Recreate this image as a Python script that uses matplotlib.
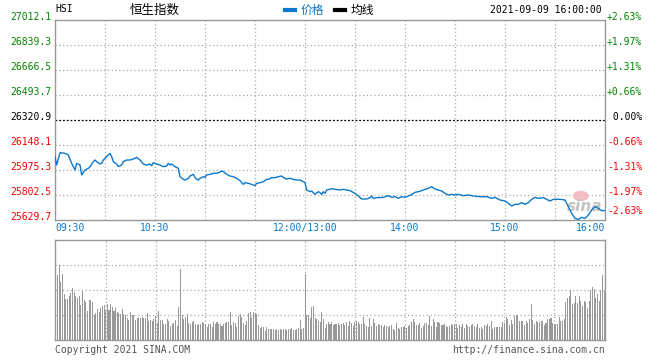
import matplotlib
matplotlib.use('Agg')
import matplotlib.pyplot as plt
from matplotlib.lines import Line2D
from matplotlib.patches import Ellipse
from matplotlib.transforms import blended_transform_factory, offset_copy

# ---------------- data ----------------
prev_close = 26320.9
y_ticks = [27012.1, 26839.3, 26666.5, 26493.7, 26320.9, 26148.1, 25975.3, 25802.5, 25629.7]
pct_labels = ['+2.63%', '+1.97%', '+1.31%', '+0.66%', ' 0.00%', '-0.66%', '-1.31%', '-1.97%', '-2.63%']
x_tick_min = [0, 60, 150, 210, 270, 330]
x_tick_lbl = ['09:30', '10:30', '12:00/13:00', '14:00', '15:00', '16:00']

# trading-minute index since 09:30 (lunch break removed) and index level
price_min = [0, 1, 3, 6, 8, 10, 12, 13, 15, 16, 18, 20, 21, 23, 24, 25, 27, 28, 29, 31,
             32, 33, 34, 35, 37, 38, 40, 41, 43, 45, 48, 49, 51, 53, 55, 57, 58, 59, 61, 63,
             65, 67, 68, 69, 70, 72, 74, 75, 77, 78, 80, 81, 83, 84, 85, 86, 87, 89, 90, 91,
             93, 95, 97, 99, 100, 101, 103, 105, 107, 109, 111, 112, 113, 114, 116, 118, 120, 121, 123, 125,
             127, 128, 130, 132, 134, 136, 137, 138, 139, 141, 143, 145, 147, 149, 150, 151, 153, 154, 155, 156,
             158, 159, 160, 161, 162, 163, 165, 166, 168, 171, 173, 175, 177, 180, 182, 184, 187, 189, 190, 191,
             193, 197, 200, 202, 204, 206, 208, 210, 212, 214, 216, 218, 220, 222, 224, 226, 228, 230, 232, 234,
             236, 238, 240, 242, 245, 248, 251, 255, 259, 262, 264, 267, 270, 272, 274, 276, 278, 280, 282, 284,
             286, 288, 290, 293, 295, 297, 299, 301, 303, 306, 308, 310, 312, 314, 316, 318, 320, 322, 324, 326,
             328, 330]
price_val = [26067.5, 26009.9, 26095.1, 26090.5, 26079.0, 26021.4, 25975.3, 26021.4, 26009.9, 25940.8,
             25975.3, 25986.8, 25998.4, 26032.9, 26044.4, 26032.9, 26016.8, 26021.4, 26044.4, 26067.5,
             26079.0, 26090.5, 26067.5, 26032.9, 26016.8, 25998.4, 26009.9, 26032.9, 26044.4, 26044.4,
             26055.9, 26062.9, 26044.4, 26016.8, 26009.9, 26016.8, 26005.2, 26026.0, 26016.8, 26009.9,
             25998.4, 26003.0, 26021.4, 26009.9, 26016.8, 25998.4, 25986.8, 25929.2, 25910.8, 25906.2,
             25917.7, 25933.8, 25945.4, 25924.6, 25910.8, 25906.2, 25917.7, 25929.2, 25924.6, 25940.8,
             25945.4, 25952.3, 25952.3, 25961.5, 25968.4, 25963.8, 25945.4, 25933.8, 25929.2, 25917.7,
             25901.6, 25887.8, 25876.2, 25887.8, 25883.1, 25876.2, 25867.0, 25883.1, 25887.8, 25894.7,
             25910.8, 25910.8, 25922.3, 25922.3, 25929.2, 25933.8, 25924.6, 25917.7, 25913.1, 25917.7,
             25910.8, 25906.2, 25906.2, 25894.7, 25887.8, 25837.1, 25825.5, 25830.1, 25818.6, 25807.1,
             25825.5, 25818.6, 25807.1, 25825.5, 25814.0, 25837.1, 25841.7, 25846.3, 25841.7, 25837.1,
             25841.7, 25837.1, 25832.5, 25814.0, 25795.6, 25774.9, 25774.9, 25784.1, 25795.6, 25779.5,
             25784.1, 25786.4, 25797.9, 25786.4, 25791.0, 25779.5, 25791.0, 25786.4, 25795.6, 25804.8,
             25820.9, 25825.5, 25832.5, 25841.7, 25848.6, 25860.1, 25844.0, 25837.1, 25830.2, 25814.0,
             25802.5, 25807.1, 25802.5, 25807.1, 25797.9, 25802.5, 25795.6, 25791.0, 25791.0, 25779.5,
             25786.4, 25768.0, 25761.0, 25744.9, 25726.5, 25738.0, 25738.0, 25749.5, 25738.0, 25749.5,
             25772.6, 25786.4, 25779.5, 25784.1, 25772.6, 25761.0, 25772.6, 25772.6, 25772.6, 25768.0,
             25721.9, 25675.8, 25641.2, 25634.3, 25648.1, 25641.2, 25664.3, 25698.8, 25721.9, 25710.3,
             25694.2, 25695.0]

# per-minute volume (relative units, panel max = 100)
volume = [65, 65, 75, 58, 66, 46, 41, 41, 44, 47, 52, 48, 44, 42, 44, 35, 49, 40, 38, 29,
          40, 40, 38, 25, 27, 31, 28, 32, 34, 35, 30, 36, 30, 36, 33, 29, 32, 28, 27, 26,
          31, 26, 25, 22, 20, 28, 25, 25, 20, 22, 22, 22, 23, 22, 22, 27, 19, 20, 19, 21,
          24, 17, 29, 20, 20, 16, 16, 21, 19, 14, 16, 17, 20, 14, 33, 71, 25, 21, 23, 26,
          17, 16, 18, 19, 16, 15, 16, 16, 18, 17, 16, 13, 16, 16, 13, 18, 16, 18, 16, 16,
          14, 16, 17, 18, 18, 28, 15, 18, 17, 13, 24, 26, 23, 17, 15, 19, 27, 28, 22, 28,
          27, 26, 15, 12, 13, 13, 9, 13, 11, 11, 11, 11, 10, 11, 10, 11, 10, 11, 11, 10,
          11, 11, 12, 10, 10, 11, 12, 20, 11, 12, 66, 25, 25, 22, 33, 34, 22, 21, 19, 18,
          28, 21, 12, 16, 18, 16, 18, 15, 16, 16, 17, 15, 16, 17, 15, 18, 14, 19, 17, 14,
          18, 19, 18, 16, 16, 23, 16, 14, 13, 22, 14, 21, 17, 14, 16, 15, 15, 13, 15, 14,
          13, 14, 15, 11, 10, 17, 12, 11, 13, 13, 14, 12, 14, 15, 18, 21, 18, 15, 15, 17,
          12, 14, 17, 17, 15, 24, 14, 21, 18, 13, 18, 17, 15, 15, 16, 14, 13, 14, 16, 15,
          16, 16, 12, 15, 13, 16, 12, 16, 14, 13, 15, 16, 14, 13, 16, 12, 13, 11, 15, 14,
          16, 14, 19, 11, 13, 13, 13, 13, 13, 18, 17, 23, 21, 15, 20, 16, 24, 25, 25, 19,
          19, 19, 15, 19, 17, 21, 36, 20, 16, 19, 18, 18, 19, 19, 15, 17, 21, 21, 22, 17,
          16, 16, 16, 23, 19, 19, 21, 38, 42, 44, 50, 36, 37, 44, 37, 44, 39, 34, 39, 38,
          32, 39, 50, 53, 51, 42, 46, 39, 50, 65, 49]

# ---------------- styles ----------------
BLUE = '#0a78cc'
GREEN = '#008800'
RED = '#ff0000'
GRID = '#aaaaaa'
FRAME = '#999999'
MONO = 'DejaVu Sans Mono'
CJK = ['Noto Sans CJK SC', 'DejaVu Sans']

W, H = 660, 360
fig = plt.figure(figsize=(6.6, 3.6), dpi=100)


def fx(px):
    return px / W


def fy(py):
    return 1 - py / H


# ---------------- main price panel ----------------
ax = fig.add_axes([fx(55), fy(220), (605 - 55) / W, 200 / H])
ax.set_xlim(0, 330)
ax.set_ylim(y_ticks[-1], y_ticks[0])
for s in ax.spines.values():
    s.set_color(FRAME)
    s.set_linewidth(1)
ax.set_xticks([])
ax.set_yticks([])

for xm in range(30, 330, 30):
    ax.axvline(xm, color=GRID, lw=0.9, ls=(0, (1, 2)), zorder=1)
for v in y_ticks[1:-1]:
    if v == prev_close:
        ax.axhline(v, color='black', lw=0.9, ls=(0, (1.5, 1.5)), zorder=1)
    else:
        ax.axhline(v, color=GRID, lw=0.9, ls=(0, (1, 2)), zorder=1)

# sina watermark
ax.add_patch(Ellipse((0.956, 0.12), 0.026, 0.045, transform=ax.transAxes,
                     color='#f5b5bd', alpha=0.85, zorder=2))
ax.text(0.962, 0.07, 'sina', transform=ax.transAxes, ha='center', va='center',
        fontsize=11, fontweight='bold', style='italic', color='#c4c4c4', zorder=2)

ax.plot(price_min, price_val, color=BLUE, lw=1.0, zorder=3)

trans_l = blended_transform_factory(ax.transAxes, ax.transData)
for i, v in enumerate(y_ticks):
    col = GREEN if v > prev_close else ('black' if v == prev_close else RED)
    t = offset_copy(trans_l, fig=fig, x=-4, y=3, units='dots')
    ax.text(0, v, f'{v:.1f}', transform=t, ha='right', va='center',
            fontsize=7, family=MONO, color=col)
    dy = 3 if i < len(y_ticks) - 1 else 9
    t2 = offset_copy(trans_l, fig=fig, x=2, y=dy, units='dots')
    ax.text(1, v, pct_labels[i], transform=t2, ha='left', va='center',
            fontsize=7, family=MONO, color=col)

trans_x = blended_transform_factory(ax.transData, ax.transAxes)
for m, lbl in zip(x_tick_min, x_tick_lbl):
    ha = 'left' if m == 0 else ('right' if m == 330 else 'center')
    ax.text(m, -0.04, lbl, transform=trans_x, ha=ha, va='center',
            fontsize=7, family=MONO, color=BLUE)

# ---------------- volume panel ----------------
axv = fig.add_axes([fx(55), fy(340), (605 - 55) / W, 100 / H])
axv.set_xlim(-0.5, 330.5)
axv.set_ylim(0, 100)
for s in axv.spines.values():
    s.set_color(FRAME)
    s.set_linewidth(1)
axv.set_xticks([])
axv.set_yticks([])
for xm in range(30, 330, 30):
    axv.axvline(xm, color=GRID, lw=0.9, ls=(0, (1, 2)), zorder=1)
for yv in (25, 50, 75):
    axv.axhline(yv, color=GRID, lw=0.9, ls=(0, (1, 2)), zorder=1)
axv.bar(range(len(volume)), volume, width=0.62, color='#999999', zorder=2,
        linewidth=0)

# ---------------- header / footer ----------------
fig.text(fx(55), fy(9), 'HSI', fontsize=7, family=MONO, ha='left', va='center')
fig.text(fx(130), fy(10), '恒生指数', fontsize=9, family=CJK, ha='left', va='center')
fig.add_artist(Line2D([fx(285), fx(295)], [fy(10), fy(10)], color=BLUE, lw=3))
fig.text(fx(301), fy(10), '价格', fontsize=8.5, family=CJK, color=BLUE, ha='left', va='center')
fig.add_artist(Line2D([fx(335), fx(345)], [fy(10), fy(10)], color='black', lw=3))
fig.text(fx(351), fy(10), '均线', fontsize=8.5, family=CJK, color='black', ha='left', va='center')
fig.text(fx(602), fy(10), '2021-09-09 16:00:00', fontsize=7, family=MONO,
         ha='right', va='center')

fig.text(fx(55), fy(350), 'Copyright 2021 SINA.COM', fontsize=7, family=MONO,
         color='#555555', ha='left', va='center')
fig.text(fx(605), fy(350), 'http://finance.sina.com.cn', fontsize=7, family=MONO,
         color='#555555', ha='right', va='center')

fig.savefig('out.png', dpi=100)
